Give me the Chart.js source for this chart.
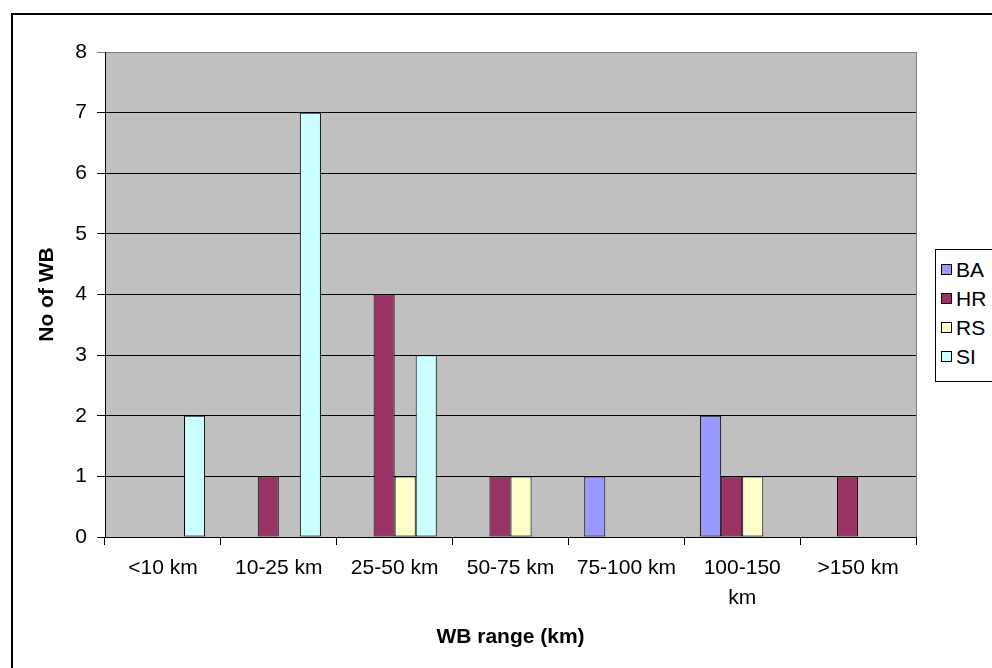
<!DOCTYPE html>
<html>
<head>
<meta charset="utf-8">
<script src="https://cdn.jsdelivr.net/npm/chart.js@4.4.1/dist/chart.umd.min.js"></script>
<style>
    body { margin: 0; background: #fff; overflow: hidden; width: 992px; height: 668px; position: relative; font-family: Arial, "Liberation Sans", sans-serif; }
    #frame { position: absolute; left: 11px; top: 13px; width: 1200px; height: 1000px; border: 2px solid #000; box-sizing: border-box; }
    #chart { position: absolute; left: 0; top: 0; }
    #legend { position: absolute; left: 935px; top: 249px; width: 120px; border: 1px solid #000; background: #fff; padding: 5px 0 10px 0; }
    .item { display: flex; align-items: center; height: 29px; font-size: 21px; color: #000; }
    .box { width: 9px; height: 9px; border: 1px solid #000; margin: 0 4px 0 5px; }
</style>
</head>
<body>
<div id="frame"></div>
<canvas id="chart" width="992" height="668"></canvas>
<div id="legend"></div>
<script>
const categories = ['<10 km', '10-25 km', '25-50 km', '50-75 km', '75-100 km', ['100-150', 'km'], '>150 km'];
const seriesNames = ['BA', 'HR', 'RS', 'SI'];
const baValues = [0, 0, 0, 0, 1, 2, 0];
const hrValues = [0, 1, 4, 1, 0, 1, 1];
const rsValues = [0, 0, 1, 1, 0, 1, 0];
const siValues = [2, 7, 3, 0, 0, 0, 0];
const yTicks = [0, 1, 2, 3, 4, 5, 6, 7, 8];
const colors = ['#9999FF', '#993366', '#FFFFCC', '#CCFFFF'];

const font = "Arial, 'Liberation Sans', sans-serif";

// grey plot area like the excel default
const plotBackground = {
    id: 'plotBackground',
    beforeDraw(chart) {
        const { ctx, chartArea: a } = chart;
        ctx.save();
        ctx.fillStyle = '#C0C0C0';
        ctx.fillRect(a.left, a.top, a.right - a.left, a.bottom - a.top);
        ctx.strokeStyle = '#808080';
        ctx.lineWidth = 1;
        ctx.strokeRect(Math.round(a.left) + 0.5, Math.round(a.top) + 0.5, Math.round(a.right - a.left), Math.round(a.bottom - a.top));
        ctx.restore();
    }
};

const datasets = [baValues, hrValues, rsValues, siValues].map((vals, i) => ({
    label: seriesNames[i],
    data: vals,
    backgroundColor: colors[i],
    borderColor: '#000',
    borderWidth: 1,
    borderSkipped: false,
    barPercentage: 1,
    categoryPercentage: 4 / 5.5
}));

const chart = new Chart(document.getElementById('chart'), {
    type: 'bar',
    data: { labels: categories, datasets: datasets },
    options: {
        responsive: false,
        animation: false,
        devicePixelRatio: 1,
        layout: { padding: { left: 0, top: 52, right: 76, bottom: 0 } },
        plugins: {
            legend: { display: false },
            tooltip: { enabled: false }
        },
        scales: {
            x: {
                offset: true,
                grid: { display: true, drawOnChartArea: false, drawTicks: true, tickLength: 8, color: '#000', offset: true },
                border: { color: '#000' },
                ticks: {
                    color: '#000', maxRotation: 0, autoSkip: false, padding: 8,
                    font: { family: font, size: 21, lineHeight: 1.43 }
                },
                title: {
                    display: true, text: 'WB range (km)', color: '#000',
                    font: { family: font, size: 21, weight: 'bold' },
                    padding: { top: 0, bottom: 18 }
                },
                afterFit(scale) { scale.height = 131; }
            },
            y: {
                min: 0,
                max: 8,
                afterBuildTicks(scale) { scale.ticks = yTicks.map(v => ({ value: v })); },
                grid: {
                    color: c => (c.tick && c.tick.value === 8 ? '#808080' : '#000'),
                    tickLength: 8
                },
                border: { color: '#000' },
                ticks: { color: '#000', padding: 10, font: { family: font, size: 21 } },
                title: {
                    display: true, text: 'No of WB', color: '#000',
                    font: { family: font, size: 21, weight: 'bold' },
                    padding: { top: 35, bottom: 0 }
                },
                afterFit(scale) { scale.width = 105; }
            }
        }
    },
    plugins: [plotBackground]
});

const legend = document.getElementById('legend');
chart.data.datasets.forEach(ds => {
    const item = document.createElement('div');
    item.className = 'item';
    item.innerHTML = `<span class="box" style="background:${ds.backgroundColor}"></span><span>${ds.label}</span>`;
    legend.appendChild(item);
});
</script>
</body>
</html>
